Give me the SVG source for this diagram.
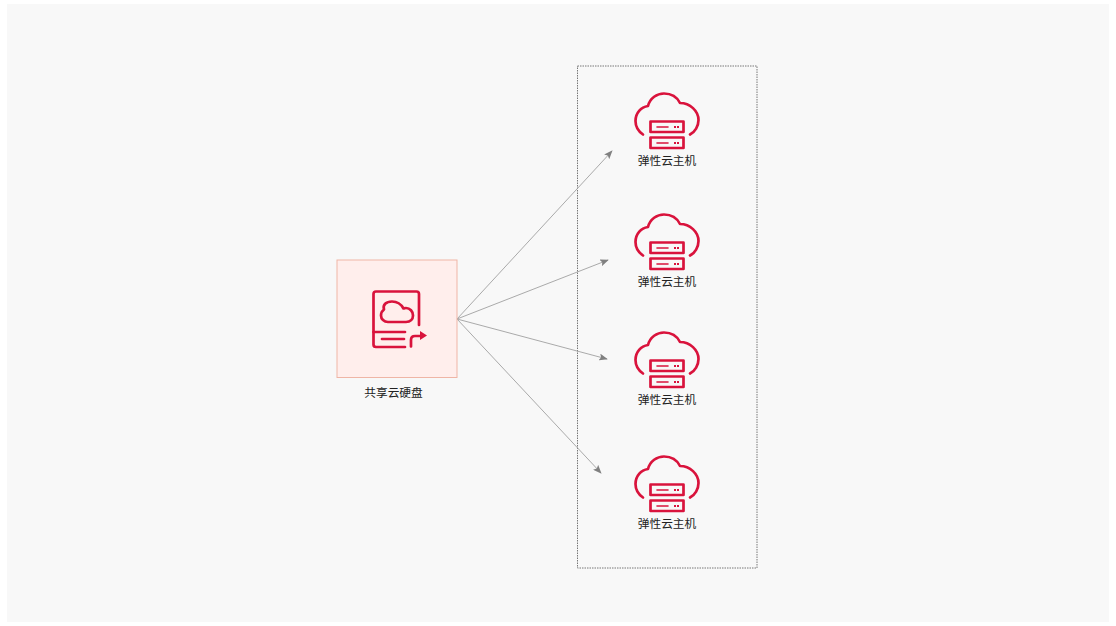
<svg xmlns="http://www.w3.org/2000/svg" width="1116" height="626" viewBox="0 0 1116 626">
<style>
.ic{fill:none;stroke:#d9133c;stroke-width:2.7;stroke-linecap:round;stroke-linejoin:round}
.lb{font-family:"Noto Sans CJK SC","Liberation Sans",sans-serif;font-size:11.7px;fill:#222;text-anchor:middle}
.cn{fill:none;stroke:#a0a0a0;stroke-width:0.9;marker-end:url(#ah)}
</style>
<defs>
<marker id="ah" viewBox="0 0 10 8" refX="9" refY="4" markerWidth="9" markerHeight="7" markerUnits="userSpaceOnUse" orient="auto"><path d="M0 0L10 4L0 8L2 4Z" fill="#808080"/></marker>
<g id="host">
<path class="ic" d="M643 134.500C638 131 635.500 126 635.500 121C635.500 113 641 107 648 106C650 98 657 93.500 664 93.500C671 93.500 677 97 680 103C690 103 698.500 111 698.500 120C698.500 126 695 132 690 134.500"/>
<rect class="ic" x="650.500" y="121.500" width="33" height="10.500"/>
<rect class="ic" x="650.500" y="137.500" width="33" height="10.500"/>
<path class="ic" style="stroke-width:1.600" d="M657 127H668M657 143H668"/>
<path fill="#d9133c" d="M674 126h2v2h-2zM677 126h2v2h-2zM674 142h2v2h-2zM677 142h2v2h-2z"/>
</g>
</defs>
<rect width="1116" height="626" fill="#fff"/>
<rect x="7" y="4" width="1102" height="618" fill="#f8f8f8"/>
<rect id="group" x="577.500" y="66" width="179.500" height="502" fill="none" stroke="#555" stroke-width="0.800" stroke-dasharray="1.500 1"/>
<g id="connectors">
<path class="cn" d="M457 319L612 151"/>
<path class="cn" d="M457 319L608 260"/>
<path class="cn" d="M457 319L607 359"/>
<path class="cn" d="M457 319L601 473"/>
</g>
<g id="disk">
<rect x="337" y="260" width="120" height="117.500" fill="#ffeeec" stroke="#efb5a6" stroke-width="1"/>
<path class="ic" d="M405 347H376Q373.500 347 373.500 344.500V294Q373.500 291.500 376 291.500H416.500Q419 291.500 419 294V325"/>
<path class="ic" d="M373.500 332H405M382 339H404"/>
<path class="ic" d="M388 322H406C410.500 322 413 319 413 315.500C413 311.500 410 308 406 308C405 308 404.500 308.200 403.500 308.500C401 304 397 301.500 392 301.500C386 301.500 382.500 305 384 309.500C382 311 381 313 381 315.500C381 319 384 322 388 322Z"/>
<path class="ic" d="M411 346.500V340Q411 336 415 336H421"/>
<path fill="#d9133c" d="M420 331L427 335.500L420 340Z"/>
<text class="lb" x="393.500" y="397">共享云硬盘</text>
</g>
<g id="host1"><use href="#host"/><text class="lb" x="667" y="165">弹性云主机</text></g>
<g id="host2"><use href="#host" y="121"/><text class="lb" x="667" y="286">弹性云主机</text></g>
<g id="host3"><use href="#host" y="239"/><text class="lb" x="667" y="404">弹性云主机</text></g>
<g id="host4"><use href="#host" y="363"/><text class="lb" x="667" y="528">弹性云主机</text></g>
</svg>
